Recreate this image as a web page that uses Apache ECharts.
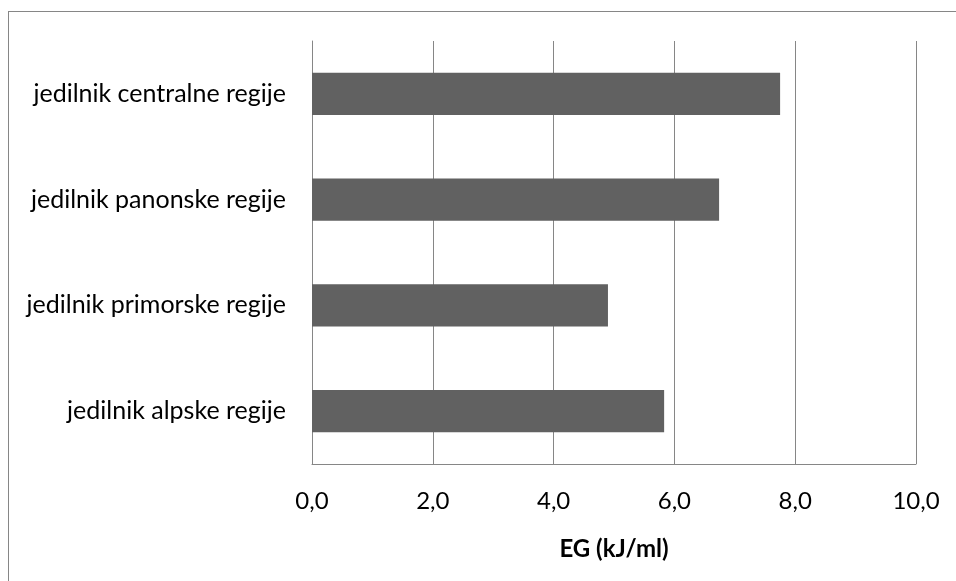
<!DOCTYPE html>
<html>
<head>
<meta charset="utf-8">
<script src="https://cdn.jsdelivr.net/npm/echarts@6/dist/echarts.min.js"></script>
<style>
  html, body { margin: 0; padding: 0; background: #fff; overflow: hidden; }
  #frame { position: absolute; left: 8px; top: 11px; width: 1000px; height: 700px;
           border-left: 1px solid #868686; border-top: 1px solid #868686; box-sizing: border-box; }
  #chart { position: absolute; left: 0; top: 0; width: 956px; height: 581px; }
</style>
</head>
<body>
<div id="frame"></div>
<div id="chart"></div>
<script>
// Energy density (EG) of regional menus, bottom-to-top category order
const regions = [
  'jedilnik alpske regije',
  'jedilnik primorske regije',
  'jedilnik panonske regije',
  'jedilnik centralne regije'
];
const egValues = [5.83, 4.90, 6.74, 7.75];
const xTicks = [0, 2, 4, 6, 8, 10];
const xAxisTitle = 'EG (kJ/ml)';

const chart = echarts.init(document.getElementById('chart'), null, { renderer: 'canvas' });
const fontFamily = 'Lato, "Open Sans", sans-serif';

chart.setOption({
  animation: false,
  grid: { left: 312, right: 40, top: 41, bottom: 117, containLabel: false },
  xAxis: {
    type: 'value',
    min: xTicks[0],
    max: xTicks[xTicks.length - 1],
    interval: xTicks[1] - xTicks[0],
    name: xAxisTitle,
    nameLocation: 'middle',
    nameGap: 73,
    nameTextStyle: { fontFamily, fontSize: 24, fontWeight: 'bold', color: '#000' },
    axisLine: { show: true, lineStyle: { color: '#868686', width: 1 } },
    axisTick: { show: false },
    axisLabel: {
      margin: 25,
      fontFamily, fontSize: 24, color: '#000',
      formatter: v => v.toFixed(1).replace('.', ',')
    },
    splitLine: { show: true, lineStyle: { color: '#868686', width: 1 } }
  },
  yAxis: {
    type: 'category',
    data: regions,
    axisLine: { show: true, lineStyle: { color: '#868686', width: 1 } },
    axisTick: { show: false },
    axisLabel: { margin: 26, fontFamily, fontSize: 25, color: '#000' },
    splitLine: { show: false }
  },
  series: [{
    type: 'bar',
    data: egValues,
    barWidth: '40%',
    itemStyle: { color: '#616161' }
  }]
});
</script>
</body>
</html>
